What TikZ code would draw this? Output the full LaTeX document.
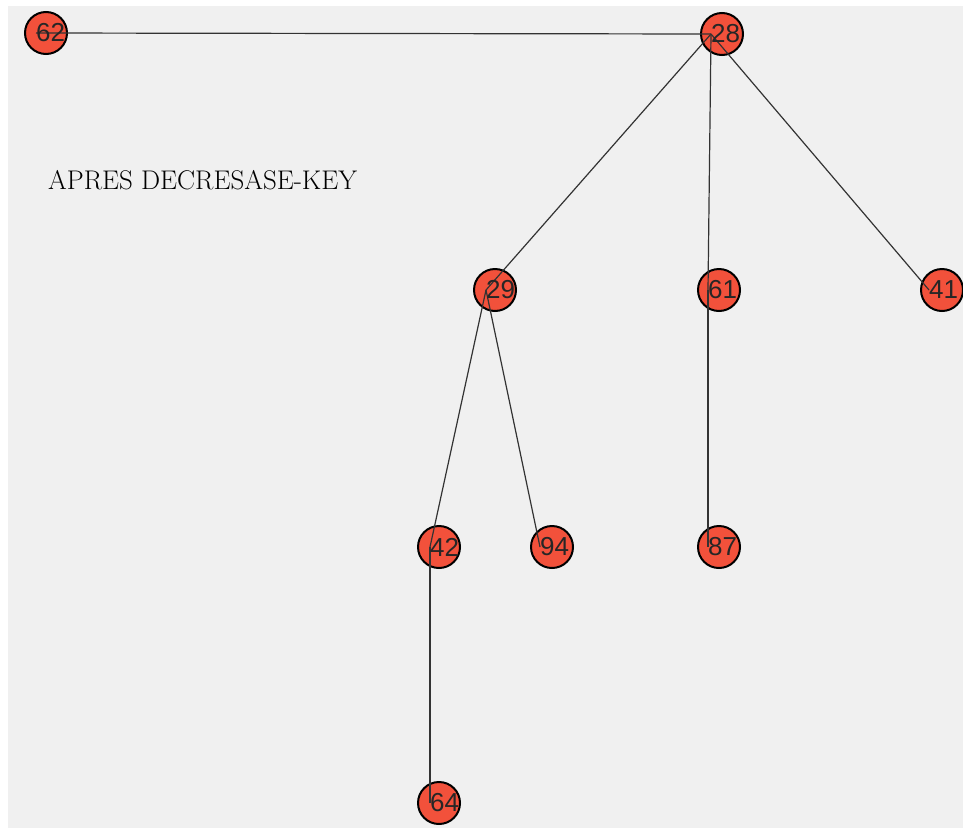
\documentclass[tikz,border=0pt]{standalone}
\usepackage{fontspec}
\newfontfamily\numfont{Liberation Sans}
\definecolor{bggray}{HTML}{F0F0F0}
\definecolor{nodered}{HTML}{F2513B}
\definecolor{edgegray}{HTML}{333333}
\begin{document}
\begin{tikzpicture}[x=1pt,y=-1pt,
  vertex/.style={circle,draw=black,line width=2pt,fill=nodered,minimum size=42pt,inner sep=0pt},
  numlabel/.style={anchor=west,inner sep=0pt,font=\numfont\fontsize{26}{26}\selectfont,text=black!85},
  edge/.style={draw=edgegray,line width=1.2pt}]
\useasboundingbox (0,0) rectangle (963,830);
\fill[bggray] (8,6) rectangle (963,828);
% nodes
\node[vertex] (n62) at (46,33) {};
\node[vertex] (n28) at (722,34) {};
\node[vertex] (n29) at (495,290) {};
\node[vertex] (n61) at (719,290) {};
\node[vertex] (n41) at (942,290) {};
\node[vertex] (n42) at (439,547) {};
\node[vertex] (n94) at (552,547) {};
\node[vertex] (n87) at (719,547) {};
\node[vertex] (n64) at (439,803) {};
% edge anchor points
\coordinate (p62) at ([xshift=-10pt]n62.center);
\coordinate (p28) at ([xshift=-11pt]n28.center);
\coordinate (p29) at ([xshift=-9pt]n29.center);
\coordinate (p61) at ([xshift=-11pt]n61.center);
\coordinate (p41) at ([xshift=-13pt]n41.center);
\coordinate (p42) at ([xshift=-9pt]n42.center);
\coordinate (p94) at ([xshift=-12pt]n94.center);
\coordinate (p87) at ([xshift=-11pt]n87.center);
\coordinate (p64) at ([xshift=-9pt]n64.center);
% edges
\draw[edge] (p62) -- (p28);
\draw[edge] (p28) -- (p29);
\draw[edge] (p28) -- (p61);
\draw[edge] (p28) -- (p41);
\draw[edge] (p29) -- (p42);
\draw[edge] (p29) -- (p94);
\draw[edge] (p61) -- (p87);
\draw[edge] (p42) -- (p64);
% labels
\node[numlabel] (t62) at (p62) {62};
\node[numlabel] (t28) at (p28) {28};
\node[numlabel] (t29) at (p29) {29};
\node[numlabel] (t61) at (p61) {61};
\node[numlabel] (t41) at (p41) {41};
\node[numlabel] (t42) at (p42) {42};
\node[numlabel] (t94) at (p94) {94};
\node[numlabel] (t87) at (p87) {87};
\node[numlabel] (t64) at (p64) {64};
\node[anchor=base west,inner sep=0pt,font=\fontsize{27}{27}\selectfont] (title) at (48,189) {APRES DECRESASE-KEY};
\end{tikzpicture}
\end{document}
